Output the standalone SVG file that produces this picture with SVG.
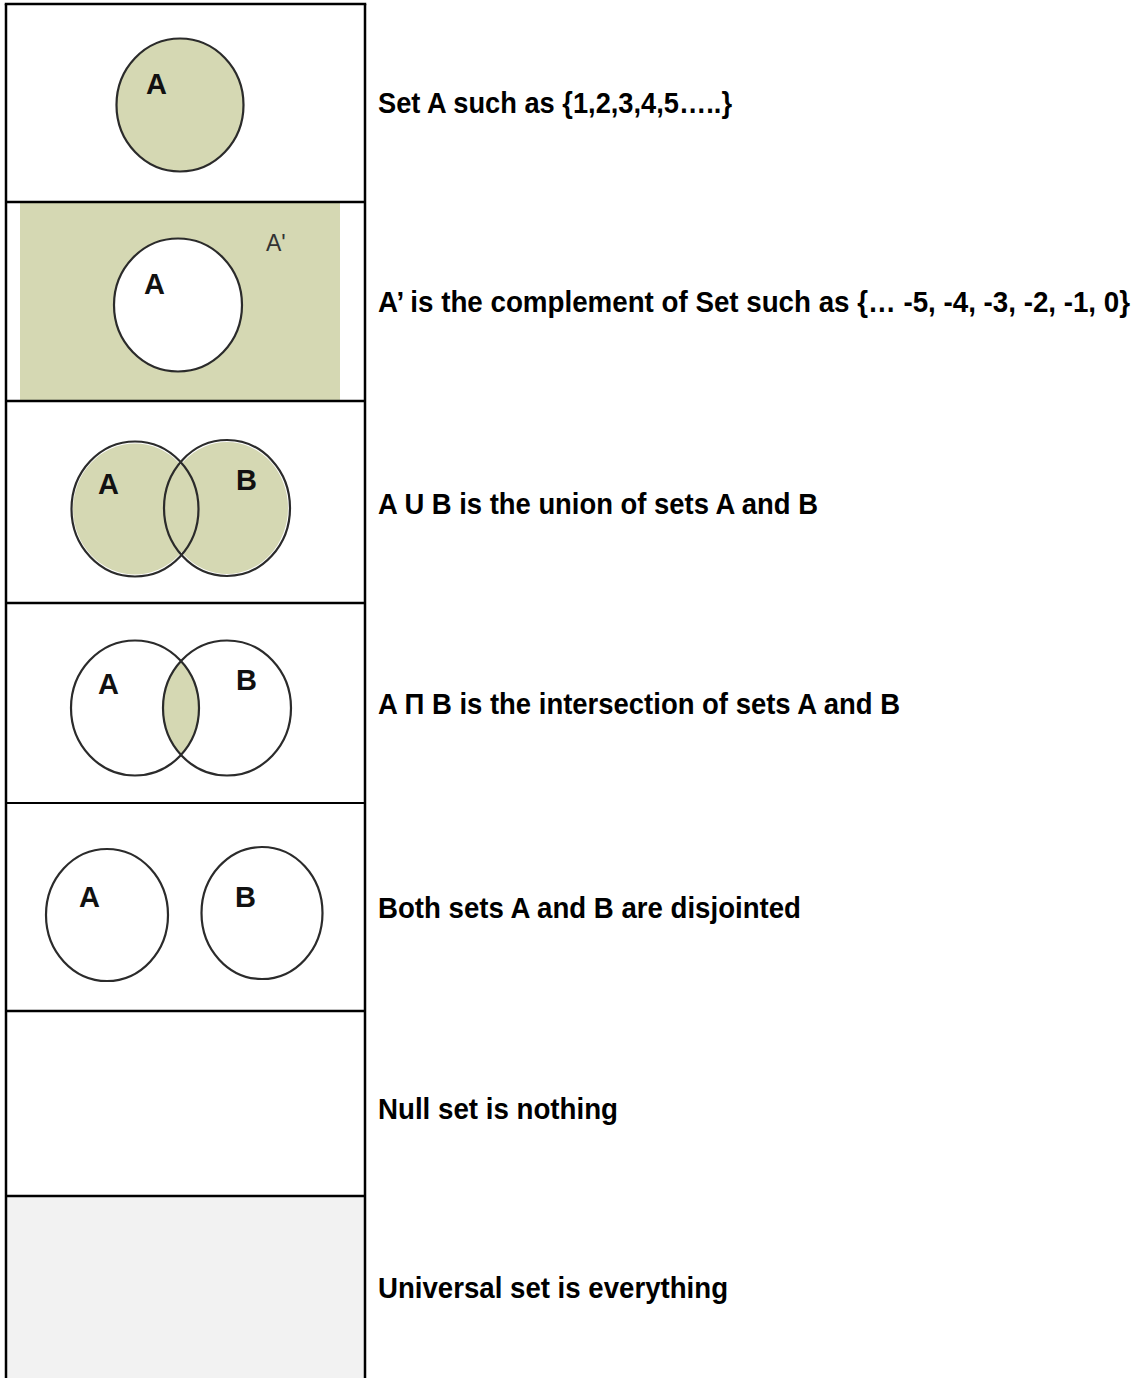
<svg xmlns="http://www.w3.org/2000/svg" width="1147" height="1378" viewBox="0 0 1147 1378">
  <style>
    .set { fill: none; stroke: #2b2b2b; stroke-width: 2.2; }
    .shade { fill: #d5d8b3; }
    .lbl { font-family: "Liberation Sans", Arial, sans-serif; font-weight: bold; font-size: 29px; fill: #111; }
    .desc { font-family: "Liberation Sans", Arial, sans-serif; font-weight: bold; font-size: 29px; fill: #000; }
    .grid { stroke: #000; stroke-width: 2.5; fill: none; }
  </style>
  <defs>
    <clipPath id="clipA4"><ellipse cx="135" cy="708" rx="64" ry="67.5"/></clipPath>
  </defs>
  <rect width="1147" height="1378" fill="#fff"/>

  <!-- Row 7 background -->
  <rect x="6" y="1196" width="359" height="182" fill="#f2f2f2"/>

  <!-- Row 1: Set A -->
  <g id="row-set-a">
    <ellipse class="shade" cx="180" cy="105" rx="63.5" ry="66.5"/>
    <ellipse class="set" cx="180" cy="105" rx="63.5" ry="66.5"/>
    <text class="lbl" x="146" y="94">A</text>
    <text class="desc" x="378" y="113" textLength="354" lengthAdjust="spacingAndGlyphs">Set A such as {1,2,3,4,5…..}</text>
  </g>

  <!-- Row 2: complement -->
  <g id="row-complement">
    <rect class="shade" x="20" y="203" width="320" height="198"/>
    <ellipse cx="178" cy="305" rx="64" ry="66.5" fill="#fff"/>
    <ellipse class="set" cx="178" cy="305" rx="64" ry="66.5"/>
    <text class="lbl" x="144" y="294">A</text>
    <text class="lbl" x="266" y="251" style="font-size:23px;font-weight:normal;fill:#333">A'</text>
    <text class="desc" transform="translate(378 312) scale(1 1.3)" x="0" y="0" style="font-size:22px" textLength="752" lengthAdjust="spacingAndGlyphs">A’ is the complement of Set  such as {… -5, -4, -3, -2, -1, 0}</text>
  </g>

  <!-- Row 3: union -->
  <g id="row-union">
    <ellipse class="shade" cx="135" cy="509" rx="62" ry="65.5"/>
    <ellipse class="shade" cx="227" cy="508" rx="61" ry="66"/>
    <ellipse class="set" cx="135" cy="509" rx="63.5" ry="67.5"/>
    <ellipse class="set" cx="227" cy="508" rx="63" ry="68"/>
    <text class="lbl" x="98" y="494">A</text>
    <text class="lbl" x="236" y="490">B</text>
    <text class="desc" x="378" y="514" textLength="440" lengthAdjust="spacingAndGlyphs">A U B is the union of sets A and B</text>
  </g>

  <!-- Row 4: intersection -->
  <g id="row-intersection">
    <ellipse class="shade" cx="227" cy="708" rx="64" ry="67.5" clip-path="url(#clipA4)"/>
    <ellipse class="set" cx="135" cy="708" rx="64" ry="67.5"/>
    <ellipse class="set" cx="227" cy="708" rx="64" ry="67.5"/>
    <text class="lbl" x="98" y="694">A</text>
    <text class="lbl" x="236" y="690">B</text>
    <text class="desc" x="378" y="714" textLength="522" lengthAdjust="spacingAndGlyphs">A Π B is the intersection of sets A and B</text>
  </g>

  <!-- Row 5: disjoint -->
  <g id="row-disjoint">
    <ellipse class="set" cx="107" cy="915" rx="61" ry="66"/>
    <ellipse class="set" cx="262" cy="913" rx="60.5" ry="66"/>
    <text class="lbl" x="79" y="907">A</text>
    <text class="lbl" x="235" y="907">B</text>
    <text class="desc" x="378" y="918" textLength="423" lengthAdjust="spacingAndGlyphs">Both sets A and B are disjointed</text>
  </g>

  <!-- Row 6: null -->
  <g id="row-null">
    <text class="desc" x="378" y="1119" textLength="240" lengthAdjust="spacingAndGlyphs">Null set is nothing</text>
  </g>

  <!-- Row 7: universal -->
  <g id="row-universal">
    <text class="desc" x="378" y="1298" textLength="350" lengthAdjust="spacingAndGlyphs">Universal set is everything</text>
  </g>

  <!-- Table grid -->
  <g id="connectors">
    <line class="grid" x1="6" y1="4" x2="6" y2="1378"/>
    <line class="grid" x1="365" y1="4" x2="365" y2="1378"/>
    <line class="grid" x1="4.75" y1="4" x2="366.25" y2="4"/>
    <line class="grid" x1="6" y1="202" x2="365" y2="202"/>
    <line class="grid" x1="6" y1="401" x2="365" y2="401"/>
    <line class="grid" x1="6" y1="603" x2="365" y2="603"/>
    <line class="grid" x1="6" y1="803" x2="365" y2="803" style="stroke-width:1.8"/>
    <line class="grid" x1="6" y1="1011" x2="365" y2="1011"/>
    <line class="grid" x1="6" y1="1196" x2="365" y2="1196"/>
  </g>
</svg>
